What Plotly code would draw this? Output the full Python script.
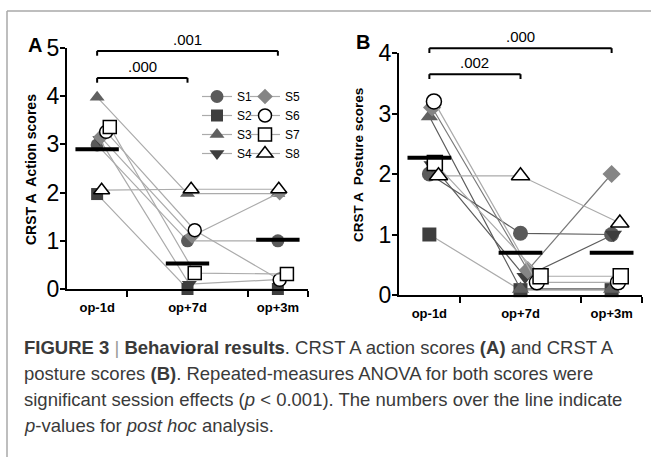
import plotly.graph_objects as go

W, H = 651, 457
FONT = "Liberation Sans, Arial, sans-serif"

# ---------------- data ----------------
timepoints = ["op-1d", "op+7d", "op+3m"]
subjects = ["S1", "S2", "S3", "S4", "S5", "S6", "S7", "S8"]

# Panel A: CRST A action scores (as drawn, incl. small visual offsets)
action_S1 = [2.99, 1.00, 1.00]
action_S2 = [1.97, 0.00, 0.00]
action_S3 = [3.98, 1.98, 1.98]
action_S4 = [3.10, 0.10, 0.20]
action_S5 = [3.15, 1.10, 2.00]
action_S6 = [3.26, 1.22, 0.19]
action_S7 = [3.36, 0.33, 0.31]
action_S8 = [2.05, 2.07, 2.07]
action_means = [2.90, 0.53, 1.02]

# Panel B: CRST A posture scores
posture_S1 = [2.00, 1.02, 1.00]
posture_S2 = [1.00, 0.08, 0.08]
posture_S3 = [2.95, 0.10, 0.10]
posture_S4 = [2.15, 0.30, 1.00]
posture_S5 = [3.10, 0.41, 2.00]
posture_S6 = [3.20, 0.21, 0.21]
posture_S7 = [2.18, 0.31, 0.31]
posture_S8 = [1.97, 1.97, 1.19]
posture_means = [2.27, 0.70, 0.70]

p_action = [".000", ".001"]   # op-1d vs op+7d, op-1d vs op+3m
p_posture = [".002", ".000"]

action = dict(zip(subjects, [action_S1, action_S2, action_S3, action_S4,
                             action_S5, action_S6, action_S7, action_S8]))
posture = dict(zip(subjects, [posture_S1, posture_S2, posture_S3, posture_S4,
                              posture_S5, posture_S6, posture_S7, posture_S8]))

# ---------------- styles ----------------
sym = {"S1": "circle", "S2": "square", "S3": "triangle-up", "S4": "triangle-down",
       "S5": "diamond", "S6": "circle", "S7": "square", "S8": "triangle-up"}
fill = {"S1": "#5a5a5a", "S2": "#3e3e3e", "S3": "#606060", "S4": "#3e3e3e",
        "S5": "#858585", "S6": "white", "S7": "white", "S8": "white"}
edge = {"S1": "#5a5a5a", "S2": "#3e3e3e", "S3": "#606060", "S4": "#3e3e3e",
        "S5": "#858585", "S6": "black", "S7": "black", "S8": "black"}
edge_w = {s: (1.5 if s in ("S6", "S7", "S8") else 0) for s in subjects}
size_adj = {"S1": 0, "S2": -1, "S3": 0, "S4": 0, "S5": -1, "S6": 0, "S7": 0, "S8": 1}
line_a = {s: "#ababab" for s in subjects}
line_b = {"S1": "#5c5c5c", "S2": "#ababab", "S3": "#5c5c5c", "S4": "#5c5c5c",
          "S5": "#7a7a7a", "S6": "#ababab", "S7": "#ababab", "S8": "#ababab"}
# horizontal dodge of each subject's markers (style only)
dodge_a = {"S1": [0, 0, 0], "S2": [0, 0, 0], "S3": [0, 0, 0], "S4": [0.03, 0.02, 0.04],
           "S5": [0.04, 0.05, 0.02], "S6": [0.1, 0.08, 0.02], "S7": [0.14, 0.08, 0.1],
           "S8": [0.05, 0.04, 0.01]}
dodge_b = {"S1": [0, 0, 0], "S2": [0, 0, 0], "S3": [0, 0, 0], "S4": [0.03, 0.05, 0.02],
           "S5": [0.03, 0.08, 0.0], "S6": [0.05, 0.18, 0.07], "S7": [0.06, 0.22, 0.1],
           "S8": [0.1, 0.0, 0.09]}

XR = [-1 / 3, 7 / 3]
domA_x = [67 / W, 308 / W]
domA_y = [1 - 289 / H, 1 - 48 / H]
domB_x = [399 / W, 642 / W]
domB_y = [1 - 295 / H, 1 - 53 / H]
rngA = [0, 5]
rngB = [0, 4]


def ypap(dom, rng, v):
    return dom[0] + (v - rng[0]) / (rng[1] - rng[0]) * (dom[1] - dom[0])


fig = go.Figure()

for s in subjects:
    fig.add_trace(go.Scatter(
        x=[i + d for i, d in enumerate(dodge_a[s])], y=action[s],
        mode="lines+markers", name=s, xaxis="x", yaxis="y",
        line=dict(color=line_a[s], width=1.2),
        marker=dict(symbol=sym[s], size=13 + size_adj[s], color=fill[s],
                    line=dict(color=edge[s], width=edge_w[s])),
        cliponaxis=False, showlegend=True,
        legend="legend" if s in ("S1", "S2", "S3", "S4") else "legend2"))

fig.add_trace(go.Scatter(
    x=[v for i in range(3) for v in (i - 0.24, i + 0.24, None)],
    y=[v for m in action_means for v in (m, m, None)],
    mode="lines", line=dict(color="black", width=4), xaxis="x", yaxis="y",
    showlegend=False, cliponaxis=False))

for s in subjects:
    fig.add_trace(go.Scatter(
        x=[i + d for i, d in enumerate(dodge_b[s])], y=posture[s],
        mode="lines+markers", name=s, xaxis="x2", yaxis="y2",
        line=dict(color=line_b[s], width=1.2),
        marker=dict(symbol=sym[s], size=15 + size_adj[s], color=fill[s],
                    line=dict(color=edge[s], width=edge_w[s])),
        cliponaxis=False, showlegend=False))

fig.add_trace(go.Scatter(
    x=[v for i in range(3) for v in (i - 0.24, i + 0.24, None)],
    y=[v for m in posture_means for v in (m, m, None)],
    mode="lines", line=dict(color="black", width=4), xaxis="x2", yaxis="y2",
    showlegend=False, cliponaxis=False))

xcommon = dict(range=XR, tickmode="array", tickvals=[0, 1, 2],
               ticktext=["<b>%s</b>" % t for t in timepoints], ticks="",
               tickfont=dict(family=FONT, size=13, color="black"),
               ticklabelstandoff=5, automargin=False,
               showline=True, linewidth=2, linecolor="black",
               showgrid=False, zeroline=False, fixedrange=True,
               minor=dict(tickmode="array", tickvals=[1 / 3, 5 / 3, 7 / 3],
                          ticks="outside", ticklen=6, tickwidth=2, tickcolor="black",
                          showgrid=False))
ycommon = dict(ticks="outside", ticklen=5, tickwidth=2, tickcolor="black",
               tickfont=dict(family=FONT, size=23, color="black"),
               ticklabelstandoff=-4,
               showline=True, linewidth=2, linecolor="black", automargin=False,
               showgrid=False, zeroline=False, fixedrange=True, dtick=1)

fig.update_layout(
    template="none",
    width=W, height=H, margin=dict(l=0, r=0, t=0, b=0, pad=0, autoexpand=False),
    paper_bgcolor="white", plot_bgcolor="rgba(0,0,0,0)",
    font=dict(family=FONT, color="black"),
    xaxis=dict(domain=domA_x, anchor="y", **xcommon),
    yaxis=dict(domain=domA_y, anchor="x", range=rngA, **ycommon),
    xaxis2=dict(domain=domB_x, anchor="y2", **xcommon),
    yaxis2=dict(domain=domB_y, anchor="x2", range=rngB, **ycommon),
    legend=dict(x=197 / W, y=1 - 82 / H, xanchor="left", yanchor="top",
                bgcolor="rgba(0,0,0,0)", font=dict(family=FONT, size=12),
                tracegroupgap=0, itemwidth=30, borderwidth=0),
    legend2=dict(x=245 / W, y=1 - 82 / H, xanchor="left", yanchor="top",
                 bgcolor="rgba(0,0,0,0)", font=dict(family=FONT, size=12),
                 tracegroupgap=0, itemwidth=30, borderwidth=0),
)

shapes = []
# figure frame
shapes.append(dict(type="line", xref="paper", yref="paper", x0=7 / W, x1=1, y0=1 - 11 / H, y1=1 - 11 / H,
                   line=dict(color="#a8a8a8", width=1.5)))
shapes.append(dict(type="line", xref="paper", yref="paper", x0=7 / W, x1=7 / W, y0=0, y1=1 - 11 / H,
                   line=dict(color="#a8a8a8", width=1.5)))

annotations = []


def bracket(xref, dom, rng, x0, x1, ytop, leg, label):
    yt = ypap(dom, rng, ytop)
    yl = ypap(dom, rng, ytop - leg)
    for a, b, c, d in ((x0, yl, x0, yt), (x0, yt, x1, yt), (x1, yt, x1, yl)):
        shapes.append(dict(type="line", xref=xref, yref="paper", x0=a, y0=b, x1=c, y1=d,
                           line=dict(color="black", width=2)))
    annotations.append(dict(xref=xref, yref="paper", x=(x0 + x1) / 2, y=yt,
                            xanchor="center", yanchor="bottom",
                            text=label, showarrow=False, yshift=1,
                            font=dict(family=FONT, size=15, color="black")))


bracket("x", domA_y, rngA, 0, 1, 4.38, 0.1, p_action[0])
bracket("x", domA_y, rngA, 0, 2, 4.94, 0.1, p_action[1])
bracket("x2", domB_y, rngB, 0, 1, 3.65, 0.08, p_posture[0])
bracket("x2", domB_y, rngB, 0, 2, 4.08, 0.08, p_posture[1])

# panel letters and axis titles
cm = dict(xref="paper", yref="paper", xanchor="center", yanchor="middle", showarrow=False)
annotations += [
    dict(x=35 / W, y=1 - 45 / H, text="<b>A</b>",
         font=dict(family=FONT, size=20, color="black"), **cm),
    dict(x=363 / W, y=1 - 42 / H, text="<b>B</b>",
         font=dict(family=FONT, size=20, color="black"), **cm),
    dict(x=31 / W, y=1 - 170 / H, text="<b>CRST A  Action scores</b>", textangle=-90,
         font=dict(family=FONT, size=14, color="black"), **cm),
    dict(x=358 / W, y=1 - 165 / H, text="<b>CRST A  Posture scores</b>", textangle=-90,
         font=dict(family=FONT, size=13.5, color="black"), **cm),
]

caption = [
    "<b>FIGURE 3</b> <span style='color:#9a9a9a'>|</span> <b>Behavioral results</b>. CRST A action scores <b>(A)</b> and CRST A",
    "posture scores <b>(B)</b>. Repeated-measures ANOVA for both scores were",
    "significant session effects (<i>p</i> &lt; 0.001). The numbers over the line indicate",
    "<i>p</i>-values for <i>post hoc</i> analysis.",
]
for k, line in enumerate(caption):
    annotations.append(dict(xref="paper", yref="paper", x=22 / W, y=1 - (347 + 26.3 * k) / H,
                            xanchor="left", yanchor="middle", text=line, showarrow=False,
                            font=dict(family=FONT, size=18.5, color="#3a3a3a")))

fig.update_layout(shapes=shapes, annotations=annotations)
fig.write_html("out.html", config={"displayModeBar": False},
               post_script="document.body.style.margin='0px';document.body.style.overflow='hidden';")
